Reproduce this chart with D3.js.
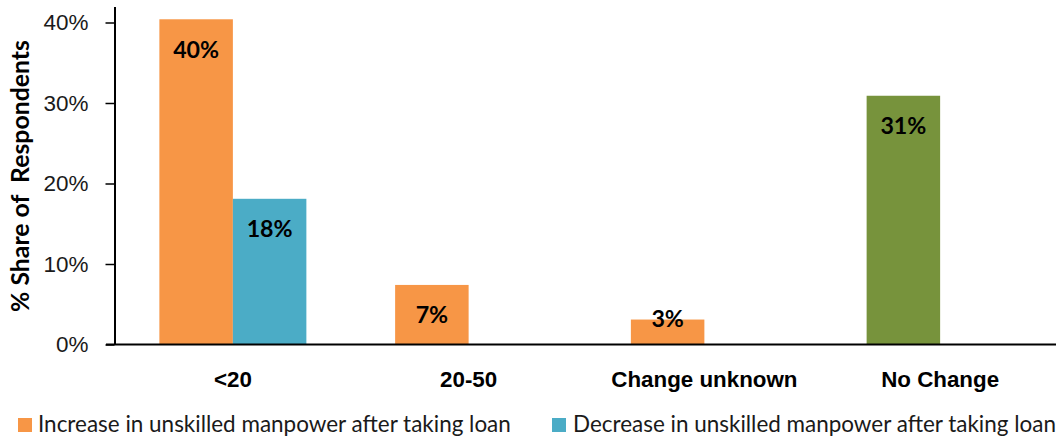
<!DOCTYPE html>
<html><head><meta charset="utf-8">
<script src="https://cdn.jsdelivr.net/npm/d3@7"></script>
<style>body{margin:0;background:#fff} svg{display:block;font-family:Lato,"Open Sans",sans-serif}</style>
</head><body>
<script>
// ---- data ----
const categories = ["<20", "20-50", "Change unknown", "No Change"];
const increaseValues = [0.404, 0.074, 0.031, null];
const decreaseValues = [0.181, null, null, null];
const noChangeValues = [null, null, null, 0.309];
const yTicks = [0, 0.1, 0.2, 0.3, 0.4];
const legendNames = ["Increase in unskilled manpower after taking loan", "Decrease in unskilled manpower after taking loan"];
const yTitle = "% Share of  Respondents";

// ---- layout ----
const W = 1058, H = 438;
const colors = { inc: "#F79646", dec: "#4BACC6", noc: "#77933C" };
const svg = d3.select("body").append("svg").attr("width", W).attr("height", H);

const y = d3.scaleLinear().domain([0, 0.42]).range([344.5, 6.4]);
const x = d3.scaleBand().domain(categories).range([115, 1058]);
const bw = x.bandwidth();
const xs = d3.scaleBand().domain(["inc", "dec"]).range([bw / 2 - 73.5, bw / 2 + 73.5]);

function fit(sel, target, ref) {
  const node = ref || sel.node();
  sel.style("font-size", "20px");
  const len = node.getComputedTextLength();
  sel.style("font-size", (20 * target / len) + "px");
}

// bars
const barData = [];
categories.forEach((c, i) => {
  if (increaseValues[i] != null) barData.push({ c, slot: "inc", v: increaseValues[i], col: colors.inc });
  if (decreaseValues[i] != null) barData.push({ c, slot: "dec", v: decreaseValues[i], col: colors.dec });
  if (noChangeValues[i] != null) barData.push({ c, slot: "inc", v: noChangeValues[i], col: colors.noc });
});
svg.append("g").selectAll("rect").data(barData).join("rect")
  .attr("x", d => x(d.c) + xs(d.slot))
  .attr("width", xs.bandwidth())
  .attr("y", d => y(d.v))
  .attr("height", d => y(0) - y(d.v))
  .attr("fill", d => d.col);

// value labels
const fmt = d3.format(".0%");
const vl = svg.append("g").selectAll("text").data(barData).join("text")
  .attr("x", d => x(d.c) + xs(d.slot) + xs.bandwidth() / 2)
  .attr("y", d => (y(0) - y(d.v) > 40) ? y(d.v) + 30 : y(d.v) - 1)
  .attr("dy", "0.36em")
  .attr("text-anchor", "middle")
  .attr("font-weight", "bold")
  .attr("fill", "#000")
  .text(d => fmt(d.v));
fit(vl, 46, vl.nodes()[0]);

// y axis
const ya = svg.append("g").attr("transform", "translate(114.5,0)")
  .call(d3.axisLeft(y).tickValues(yTicks).tickFormat(d3.format(".0%")).tickSize(9).tickSizeOuter(0).tickPadding(17));
ya.select(".domain").attr("stroke", "#000").attr("stroke-width", 2);
ya.selectAll(".tick line").attr("stroke", "#000").attr("stroke-width", 1.5);
const yt = ya.selectAll(".tick text").attr("fill", "#1a1a1a").attr("font-family", null);
fit(yt, 45, yt.nodes()[yt.size() - 1]);
ya.attr("font-size", null);

// x axis
const xa = svg.append("g").attr("transform", `translate(0,${y(0)})`)
  .call(d3.axisBottom(x).tickSize(0));
xa.select(".domain").remove();
const xt = xa.selectAll(".tick text").attr("y", 42.5).attr("dy", null)
  .attr("font-weight", "bold").attr("fill", "#000").attr("font-family", null);
fit(xt, 118, xt.nodes()[3]);
svg.append("line").attr("x1", 106).attr("x2", 1056).attr("y1", y(0)).attr("y2", y(0))
  .attr("stroke", "#000").attr("stroke-width", 2);

// y title
const tt = svg.append("text").attr("transform", "translate(20,176) rotate(-90)")
  .attr("text-anchor", "middle").attr("dy", "0.36em").attr("font-weight", "bold")
  .attr("fill", "#000").style("white-space", "pre").text(yTitle);
fit(tt, 272);

// legend
const legX = [18, 552];
const lg = svg.append("g").selectAll("g").data(legendNames).join("g")
  .attr("transform", (d, i) => `translate(${legX[i]},418)`);
lg.append("rect").attr("width", 14).attr("height", 14).attr("fill", (d, i) => i === 0 ? colors.inc : colors.dec);
const lt = lg.append("text").attr("x", (d, i) => i === 0 ? 20 : 21).attr("y", 14).attr("fill", "#1a1a1a").text(d => d);
fit(lt, 473, lt.nodes()[0]);
</script>
</body></html>
